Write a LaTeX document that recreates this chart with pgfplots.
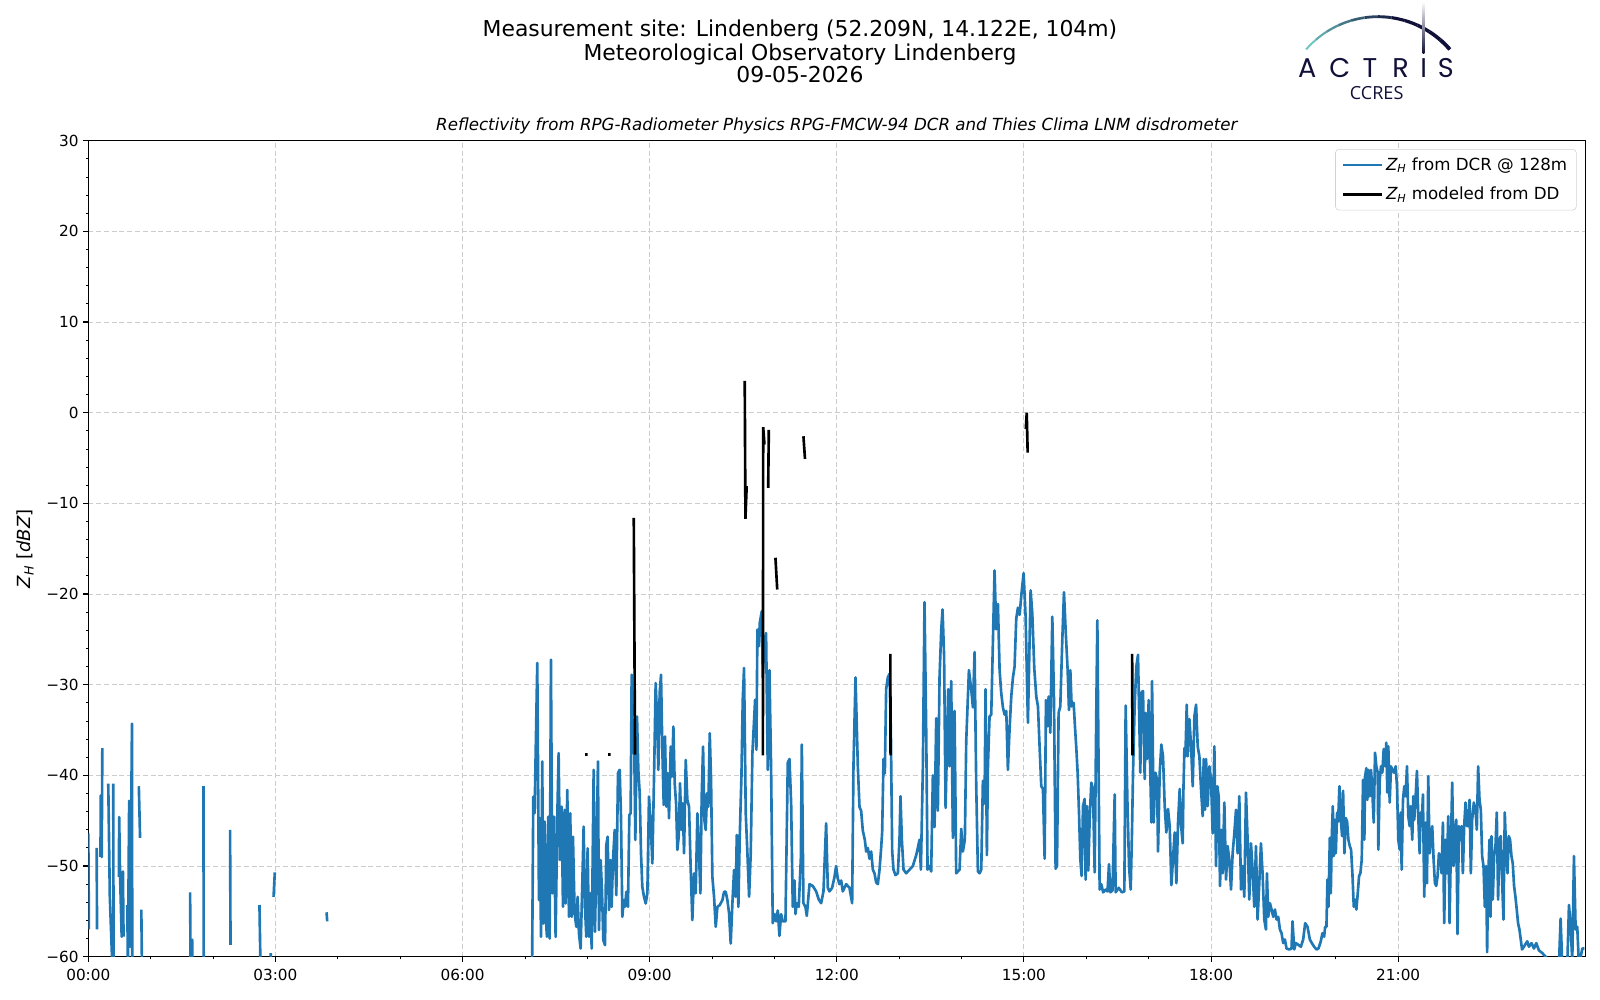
\documentclass[border=0pt]{standalone}
\usepackage{fontspec}
\setmainfont{DejaVu Sans}
\newfontfamily\poppins{Poppins}
\newfontfamily\opensans{Open Sans}
\usepackage{pgfplots}
\pgfplotsset{compat=1.18}
\definecolor{mplblue}{HTML}{1F77B4}
\definecolor{navy}{RGB}{16,16,56}
\definecolor{teal1}{RGB}{110,196,192}
\begin{document}
\begin{tikzpicture}
\useasboundingbox (0,0) rectangle (1152pt,720pt);
\begin{axis}[
  at={(63.58pt,31.18pt)}, anchor=south west, scale only axis,
  width=1077.84pt, height=587.52pt,
  xmin=0, xmax=24, ymin=-60, ymax=30,
  xtick={0,3,6,9,12,15,18,21},
  xticklabels={00:00,03:00,06:00,09:00,12:00,15:00,18:00,21:00},
  ytick={-60,-50,-40,-30,-20,-10,0,10,20,30},
  yticklabels={−60,−50,−40,−30,−20,−10,0,10,20,30},
  minor x tick num=2, minor y tick num=4,
  tick align=outside, major tick length=3.5pt, minor tick length=2pt,
  major tick style={black, line width=0.8pt},
  minor tick style={black, line width=0.6pt},
  xtick pos=left, ytick pos=left,
  axis line style={line width=0.8pt},
  grid=major,
  major grid style={color=gray!40, line width=0.7pt, dash pattern=on 3.6pt off 2pt},
  ticklabel style={font=\fontsize{11}{13}\selectfont},
  xticklabel style={yshift=-2pt},
  unbounded coords=jump,
  legend style={at={(1,1)}, anchor=north east, xshift=-6.3pt, yshift=-6pt,
    draw=gray!35, rounded corners=2.5pt, font=\fontsize{12}{14}\selectfont,
    inner xsep=4.5pt, inner ysep=4pt, row sep=6.5pt, fill=white, cells={anchor=west}},
  legend image code/.code={\draw[#1, line width=1.9pt] (0pt,0pt) -- (28pt,0pt);},
  clip=true,
]
\addplot[mplblue, line width=1.9pt, line join=round] coordinates {
(0.0,-46.4) (0.01,-57.0) (0.05,nan)
(0.134,-48.0) (0.14,-57.0) (0.17,nan)
(0.195,-49.0) (0.2,-42.2) (0.215,-49.0) (0.225,-37.0) (0.27,nan)
(0.32,-40.9) (0.345,-53.4) (0.385,-61) (0.39,nan)
(0.4,-40.9) (0.405,-61) (0.45,nan)
(0.49,-51.2) (0.495,-44.6) (0.51,-51.2) (0.535,-57.8) (0.555,-50.6) (0.565,-57.8) (0.6,nan)
(0.625,-54.3) (0.635,-61) (0.655,-42.8) (0.67,-58.9) (0.7,-34.3) (0.705,-61) (0.75,nan)
(0.81,-41.2) (0.83,-46.9) (0.84,nan)
(0.85,-54.8) (0.86,-61) (1.0,nan)
(1.632,-52.9) (1.64,-61) (1.65,nan)
(1.665,-58.0) (1.67,-61) (1.7,nan)
(1.846,-41.2) (1.85,-61) (2.0,nan)
(2.273,-46.0) (2.28,-58.7) (2.5,nan)
(2.744,-54.3) (2.76,-61) (2.8,nan)
(2.925,-59.6) (2.93,-61) (2.95,nan)
(2.97,-53.4) (2.99,-50.7) (3.2,nan)
(3.82,-55.1) (3.83,-56.1) (4.0,nan)
(7.115,-61) (7.134,-42.34) (7.155,-44.18) (7.198,-27.61) (7.225,-53.76) (7.241,-44.73) (7.257,-57.81) (7.278,-38.47) (7.294,-56.34) (7.316,-45.1)
(7.337,-55.97) (7.353,-57.81) (7.374,-44.55) (7.396,-58.0) (7.417,-27.24) (7.439,-53.02) (7.465,-44.55) (7.492,-57.81) (7.519,-44.55) (7.540,-37.55)
(7.562,-49.34) (7.588,-43.45) (7.610,-54.5) (7.636,-43.81) (7.652,-54.13) (7.679,-41.6) (7.706,-55.6) (7.727,-44.18) (7.749,-55.6) (7.770,-46.76)
(7.797,-55.23) (7.824,-56.71) (7.845,-53.39) (7.866,-57.44) (7.893,-59.1) (7.920,-51.92) (7.941,-45.66) (7.963,-54.5) (7.984,-57.81) (8.005,-48.05)
(8.027,-57.81) (8.048,-53.02) (8.070,-59.1) (8.102,-39.39) (8.123,-57.26) (8.145,-49.34) (8.171,-38.47) (8.187,-57.07) (8.214,-49.34) (8.235,-52.65)
(8.257,-58.18) (8.284,-58.73) (8.305,-47.68) (8.326,-46.76) (8.348,-54.86) (8.369,-49.34) (8.390,-54.5) (8.412,-49.34) (8.439,-46.02) (8.465,-53.21)
(8.492,-39.76) (8.519,-39.39) (8.540,-44.55) (8.562,-55.6) (8.583,-53.76) (8.604,-54.5) (8.626,-52.84) (8.652,-54.5) (8.674,-44.37) (8.695,-44.18)
(8.711,-28.9) (8.733,-37.55) (8.754,-37.55) (8.770,-47.13) (8.797,-33.5) (8.818,-39.39) (8.840,-41.97) (8.861,-48.6) (8.882,-52.29) (8.909,-53.39)
(8.936,-54.13) (8.963,-53.02) (8.989,-42.34) (9.016,-45.29) (9.043,-49.71) (9.070,-40.13) (9.096,-29.82) (9.118,-33.5) (9.139,-39.39) (9.160,-30.92)
(9.182,-28.9) (9.203,-37.18) (9.225,-43.26) (9.246,-35.71) (9.267,-43.45) (9.289,-39.76) (9.310,-44.73) (9.337,-36.82) (9.358,-40.13) (9.380,-34.61)
(9.401,-40.87) (9.423,-43.08) (9.444,-48.23) (9.465,-46.76) (9.487,-40.87) (9.508,-46.02) (9.529,-43.08) (9.551,-48.6) (9.578,-38.29) (9.604,-42.71)
(9.631,-43.45) (9.658,-50.44) (9.684,-55.97) (9.711,-50.81) (9.738,-53.02) (9.765,-44.18) (9.791,-48.6) (9.813,-53.02) (9.834,-42.34) (9.856,-36.82)
(9.877,-44.92) (9.898,-46.02) (9.920,-41.97) (9.941,-43.45) (9.963,-35.34) (9.984,-40.5) (10.005,-51.18) (10.032,-53.39) (10.059,-56.71) (10.086,-54.5)
(10.123,-54.31) (10.166,-53.76) (10.193,-52.84) (10.219,-52.84) (10.246,-53.76) (10.273,-55.23) (10.299,-58.55) (10.326,-54.13) (10.353,-50.44) (10.380,-53.39)
(10.396,-46.58) (10.422,-54.5) (10.444,-46.76) (10.471,-40.13) (10.492,-31.66) (10.513,-28.16) (10.540,-44.18) (10.567,-48.6) (10.594,-53.39) (10.620,-48.6)
(10.647,-37.55) (10.674,-33.87) (10.690,-31.66) (10.711,-37.18) (10.727,-23.92) (10.749,-25.76) (10.765,-23.19) (10.797,-21.9) (10.813,-29.2) (10.840,-25.2)
(10.866,-24.3) (10.893,-39.4) (10.920,-28.4) (10.947,-39.4) (10.973,-56.3) (11.000,-55.3) (11.027,-56.1) (11.054,-54.9) (11.080,-57.7) (11.107,-55.3)
(11.134,-56.1) (11.177,-56.1) (11.214,-38.6) (11.241,-38.2) (11.268,-43.1) (11.294,-54.5) (11.321,-51.6) (11.337,-55.3) (11.358,-54.1) (11.390,-54.5)
(11.423,-49.2) (11.439,-36.6) (11.465,-54.1) (11.497,-54.5) (11.519,-55.5) (11.562,-52.0) (11.615,-52.2) (11.669,-52.8) (11.711,-53.7) (11.749,-54.1)
(11.786,-52.8) (11.829,-45.3) (11.856,-52.4) (11.882,-52.8) (11.925,-52.4) (11.963,-51.2) (11.989,-50.0) (12.016,-51.4) (12.043,-52.0) (12.070,-51.6)
(12.096,-52.8) (12.150,-52.0) (12.203,-52.4) (12.246,-54.1) (12.267,-39.0) (12.300,-29.2) (12.337,-39.0) (12.364,-43.5) (12.390,-43.9) (12.417,-46.1)
(12.449,-47.1) (12.471,-48.4) (12.497,-48.0) (12.524,-49.2) (12.551,-48.4) (12.578,-50.4) (12.604,-50.8) (12.631,-51.8) (12.658,-52.0) (12.685,-50.4)
(12.711,-48.0) (12.727,-46.3) (12.749,-38.2) (12.770,-39.8) (12.791,-30.5) (12.818,-29.2) (12.845,-28.8) (12.866,-34.9) (12.888,-48.4) (12.909,-50.4)
(12.941,-51.0) (12.979,-50.8) (13.005,-47.1) (13.021,-42.3) (13.043,-47.1) (13.070,-50.4) (13.112,-50.8) (13.166,-50.4) (13.219,-50.0) (13.273,-48.8)
(13.299,-48.0) (13.326,-47.1) (13.348,-50.4) (13.380,-39.0) (13.406,-20.9) (13.433,-34.9) (13.455,-50.4) (13.487,-50.0) (13.513,-50.6) (13.540,-40.0)
(13.567,-45.7) (13.594,-33.7) (13.620,-43.9) (13.647,-29.2) (13.674,-24.0) (13.695,-21.7) (13.72,-26.8) (13.744,-43.6) (13.786,-30.5) (13.807,-39.0)
(13.834,-29.6) (13.861,-46.9) (13.888,-32.9) (13.914,-50.8) (13.941,-50.6) (13.968,-50.4) (13.995,-45.9) (14.021,-48.4) (14.053,-47.1) (14.075,-36.2)
(14.118,-28.4) (14.155,-30.5) (14.182,-32.5) (14.209,-26.4) (14.235,-41.0) (14.262,-50.6) (14.289,-50.8) (14.316,-50.4) (14.342,-40.6) (14.369,-43.1)
(14.385,-30.5) (14.406,-48.8) (14.423,-39.0) (14.449,-33.5) (14.476,-33.3) (14.503,-25.2) (14.529,-17.4) (14.556,-23.9) (14.583,-21.1) (14.610,-28.4)
(14.636,-30.9) (14.663,-32.5) (14.690,-33.3) (14.717,-32.9) (14.743,-39.4) (14.770,-34.9) (14.797,-31.3) (14.824,-29.2) (14.850,-28.0) (14.877,-22.7)
(14.904,-21.5) (14.931,-22.3) (14.96,-20.0) (14.995,-17.7) (15.027,-22.5) (15.064,-34.2) (15.091,-25.1) (15.107,-19.6) (15.134,-22.1) (15.166,-28.2)
(15.198,-31.3) (15.225,-32.4) (15.251,-36.8) (15.278,-41.2) (15.305,-41.5) (15.332,-49.2) (15.353,-31.7) (15.374,-34.6) (15.396,-31.3) (15.423,-35.3)
(15.455,-22.5) (15.482,-31.7) (15.508,-50.3) (15.530,-50.0) (15.556,-33.1) (15.583,-32.4) (15.615,-25.1) (15.642,-19.8) (15.669,-24.0) (15.701,-28.4)
(15.722,-32.8) (15.744,-28.4) (15.765,-32.4) (15.797,-32.0) (15.818,-34.6) (15.840,-37.0) (15.861,-39.7) (15.883,-44.1) (15.904,-49.2) (15.925,-51.1)
(15.947,-43.4) (15.973,-42.6) (15.989,-51.5) (16.011,-43.4) (16.032,-50.5) (16.054,-44.8) (16.080,-40.8) (16.107,-41.5) (16.134,-50.7) (16.161,-32.4)
(16.177,-22.9) (16.193,-36.0) (16.214,-52.6) (16.24,-52.0) (16.27,-52.9) (16.31,-52.6) (16.34,-52.8) (16.364,-49.8) (16.385,-52.9) (16.42,-52.7)
(16.455,-42.1) (16.47,-52.9) (16.52,-52.4) (16.57,-52.9) (16.61,-52.8) (16.631,-32.3) (16.658,-42.6) (16.685,-50.0) (16.712,-52.6) (16.733,-46.1)
(16.749,-39.7) (16.775,-32.4) (16.802,-28.0) (16.829,-26.7) (16.845,-32.4) (16.866,-39.7) (16.882,-30.9) (16.909,-30.7) (16.936,-40.4) (16.952,-33.1)
(16.973,-38.2) (17.000,-31.7) (17.027,-40.1) (17.043,-45.2) (17.054,-29.6) (17.080,-45.2) (17.107,-39.7) (17.134,-40.4) (17.150,-48.4) (17.177,-39.7)
(17.203,-36.6) (17.230,-37.9) (17.257,-43.4) (17.283,-46.3) (17.310,-43.7) (17.337,-45.6) (17.364,-52.1) (17.390,-49.2) (17.417,-46.3) (17.444,-51.9)
(17.471,-45.2) (17.497,-41.5) (17.52,-45.6) (17.546,-47.5) (17.557,-41.6) (17.573,-37.0) (17.589,-37.9) (17.61,-32.2) (17.626,-37.9) (17.653,-33.8)
(17.68,-36.8) (17.706,-41.2) (17.733,-33.5) (17.76,-32.2) (17.786,-36.8) (17.813,-37.9) (17.84,-41.6) (17.866,-44.5) (17.882,-38.2) (17.904,-43.8)
(17.92,-38.2) (17.946,-43.4) (17.973,-39.0) (18.0,-40.5) (18.026,-46.4) (18.053,-36.8) (18.08,-50.0) (18.101,-41.2) (18.122,-42.3) (18.144,-52.2)
(18.165,-46.0) (18.186,-50.8) (18.213,-43.0) (18.24,-51.5) (18.266,-47.8) (18.293,-49.3) (18.32,-52.6) (18.346,-48.6) (18.373,-46.4) (18.4,-43.8)
(18.426,-48.6) (18.453,-42.3) (18.48,-52.6) (18.506,-50.0) (18.533,-53.4) (18.56,-41.9) (18.586,-47.1) (18.613,-53.7) (18.64,-47.5) (18.666,-50.4)
(18.693,-54.5) (18.72,-47.8) (18.746,-55.9) (18.773,-51.9) (18.8,-47.5) (18.826,-50.8) (18.853,-55.9) (18.88,-57.0) (18.896,-50.8) (18.917,-55.6)
(18.944,-54.1) (18.97,-54.8) (18.997,-55.6) (19.024,-54.8) (19.05,-55.9) (19.077,-55.6) (19.104,-57.0) (19.13,-57.4) (19.157,-58.5) (19.184,-58.1)
(19.21,-59.1) (19.253,-59.2) (19.29,-59.1) (19.306,-56.1) (19.333,-59.2) (19.36,-58.5) (19.402,-58.7) (19.44,-58.9) (19.477,-58.1) (19.509,-56.3)
(19.546,-56.7) (19.584,-58.1) (19.616,-58.5) (19.653,-58.9) (19.69,-59.2) (19.722,-59.1) (19.76,-58.3) (19.786,-57.4) (19.813,-57.8) (19.829,-56.7)
(19.85,-56.7) (19.866,-51.5) (19.882,-54.5) (19.904,-46.9) (19.92,-53.0) (19.936,-46.7) (19.952,-43.4) (19.968,-48.9) (19.984,-44.9) (20.0,-48.6)
(20.021,-44.1) (20.037,-45.1) (20.058,-41.2) (20.08,-44.9) (20.101,-46.7) (20.117,-41.7) (20.138,-48.6) (20.16,-44.7) (20.181,-45.1) (20.202,-47.1)
(20.224,-47.8) (20.245,-48.2) (20.266,-50.8) (20.288,-54.5) (20.309,-53.7) (20.33,-54.8) (20.352,-53.0) (20.373,-51.1) (20.394,-50.8) (20.416,-49.3)
(20.437,-40.5) (20.458,-47.1) (20.469,-40.1) (20.49,-39.2) (20.506,-42.7) (20.522,-39.4) (20.544,-42.3) (20.565,-39.4) (20.586,-41.9) (20.608,-45.2)
(20.629,-37.5) (20.65,-39.0) (20.672,-39.7) (20.682,-48.2) (20.704,-40.5) (20.725,-39.0) (20.746,-39.7) (20.768,-37.1) (20.789,-39.0) (20.81,-36.4)
(20.826,-41.9) (20.842,-36.8) (20.864,-43.0) (20.885,-39.0) (20.906,-39.4) (20.933,-39.7) (20.96,-39.0) (20.981,-41.2) (21.002,-47.1) (21.024,-48.2)
(21.04,-44.1) (21.056,-50.4) (21.077,-42.7) (21.098,-41.2) (21.12,-42.3) (21.141,-39.0) (21.162,-44.5) (21.184,-45.6) (21.2,-43.4) (21.226,-47.1)
(21.242,-42.3) (21.258,-44.9) (21.28,-42.3) (21.301,-39.5) (21.322,-44.5) (21.344,-48.6) (21.36,-44.1) (21.376,-45.6) (21.397,-42.1) (21.418,-53.4)
(21.44,-45.2) (21.461,-51.9) (21.482,-40.1) (21.504,-48.6) (21.525,-47.1) (21.546,-45.6) (21.568,-49.3) (21.589,-51.9) (21.61,-52.2) (21.632,-51.1)
(21.653,-48.6) (21.674,-48.9) (21.696,-50.8) (21.717,-45.2) (21.738,-56.3) (21.76,-47.1) (21.781,-50.8) (21.802,-44.5) (21.824,-56.3) (21.845,-47.8)
(21.866,-40.8) (21.888,-50.0) (21.909,-46.4) (21.93,-44.9) (21.952,-57.5) (21.973,-45.6) (21.994,-47.1) (22.016,-45.6) (22.037,-50.8) (22.058,-45.6)
(22.08,-43.0) (22.101,-45.6) (22.122,-45.6) (22.144,-42.7) (22.165,-50.8) (22.186,-44.9) (22.213,-43.0) (22.24,-43.8) (22.261,-46.0) (22.282,-39.0)
(22.304,-42.7) (22.325,-43.8) (22.346,-48.9) (22.368,-50.0) (22.389,-54.5) (22.41,-50.0) (22.426,-59.5) (22.442,-51.5) (22.464,-47.1) (22.48,-55.6)
(22.496,-46.7) (22.517,-53.7) (22.538,-48.9) (22.56,-47.8) (22.581,-44.1) (22.602,-53.7) (22.624,-47.1) (22.645,-46.7) (22.666,-51.5) (22.688,-55.9)
(22.709,-44.1) (22.73,-48.2) (22.752,-50.8) (22.773,-46.7) (22.794,-47.1) (22.816,-48.9) (22.837,-49.7) (22.858,-52.2) (22.88,-53.4) (22.901,-54.8)
(22.922,-56.3) (22.944,-57.0) (22.965,-58.1) (22.986,-59.2) (23.016,-58.9) (23.069,-58.3) (23.096,-58.9) (23.139,-58.5) (23.176,-59.1) (23.214,-58.5)
(23.256,-59.3) (23.31,-59.6) (23.363,-60.0) (23.417,-60.5) (23.497,-60.3) (23.577,-61) (23.604,-55.8) (23.631,-61) (23.711,-61) (23.738,-54.3)
(23.765,-56.7) (23.791,-60.5) (23.818,-48.9) (23.845,-57.0) (23.871,-56.7) (23.898,-61) (23.952,-59.1) (23.984,-59.1)
};
\addlegendentry{{\itshape Z}\textsubscript{\itshape H} from DCR @ 128m}
\addplot[black, line width=1.9pt] coordinates {
(7.965,-37.7) (8.005,-37.7) (8.1,nan)
(8.335,-37.7) (8.375,-37.7) (8.5,nan)
(8.745,-11.6) (8.765,-37.7) (9,nan)
(10.524,3.5) (10.535,-11.7) (10.555,-8.1) (10.6,nan)
(10.815,-37.8) (10.82,-1.6) (10.84,-3.5) (10.87,nan)
(10.91,-1.9) (10.9,-8.3) (10.95,nan)
(11.016,-16.0) (11.045,-19.5) (11.1,nan)
(11.465,-2.6) (11.49,-5.1) (11.6,nan)
(12.858,-26.6) (12.862,-37.8) (13,nan)
(15.03,-1.8) (15.045,0.0) (15.06,-4.4) (15.2,nan)
(16.735,-26.6) (16.74,-37.8)
};
\addlegendentry{{\itshape Z}\textsubscript{\itshape H} modeled from DD}
\end{axis}
% y label
\node[rotate=90, font=\fontsize{13}{15}\selectfont] at (18pt,324.9pt) {{\itshape Z}\textsubscript{\itshape H} [{\itshape dBZ}]};
% titles
\node[font=\fontsize{15.75}{18}\selectfont] at (576pt,697.9pt) {Measurement site: Lindenberg (52.209N, 14.122E, 104m)};
\node[font=\fontsize{15.75}{18}\selectfont] at (576pt,681.1pt) {Meteorological Observatory Lindenberg};
\node[font=\fontsize{15.75}{18}\selectfont] at (576pt,666.0pt) {09-05-2026};
\node[font=\fontsize{12}{14}\selectfont\itshape] at (602.5pt,629.0pt) {Reflectivity from RPG-Radiometer Physics RPG-FMCW-94 DCR and Thies Clima LNM disdrometer};
% logo
\foreach \i in {0,...,11} {
  \pgfmathsetmacro{\a}{139-\i*98/12}
  \pgfmathsetmacro{\b}{139-(\i+1)*98/12}
  \pgfmathsetmacro{\m}{min(100,\i/7*100)}
  \pgfmathsetmacro{\w}{1.4+\i*0.12}
  \draw[color=navy!\m!teal1, line width=\w pt] ({992.16pt+68.54pt*cos(\a)},{639.43pt+68.54pt*sin(\a)}) arc[start angle=\a, end angle=\b, radius=68.54pt];
}
\shade[top color=white, bottom color=navy] (1024.2pt,681.6pt) rectangle (1025.6pt,718.8pt);
\foreach \x/\l in {941.3/A,964.6/C,986.4/T,1008.5/R,1025.1/I,1040.9/S} {
  \node[anchor=base, inner sep=0pt, text=navy, font=\poppins\fontsize{19.5}{20}\selectfont] at (\x pt,664.3pt) {\l};
}
\node[anchor=base, inner sep=0pt, text=navy, font=\opensans\fontsize{13}{14}\selectfont] at (991.2pt,648.2pt) {CCRES};
\end{tikzpicture}
\end{document}
